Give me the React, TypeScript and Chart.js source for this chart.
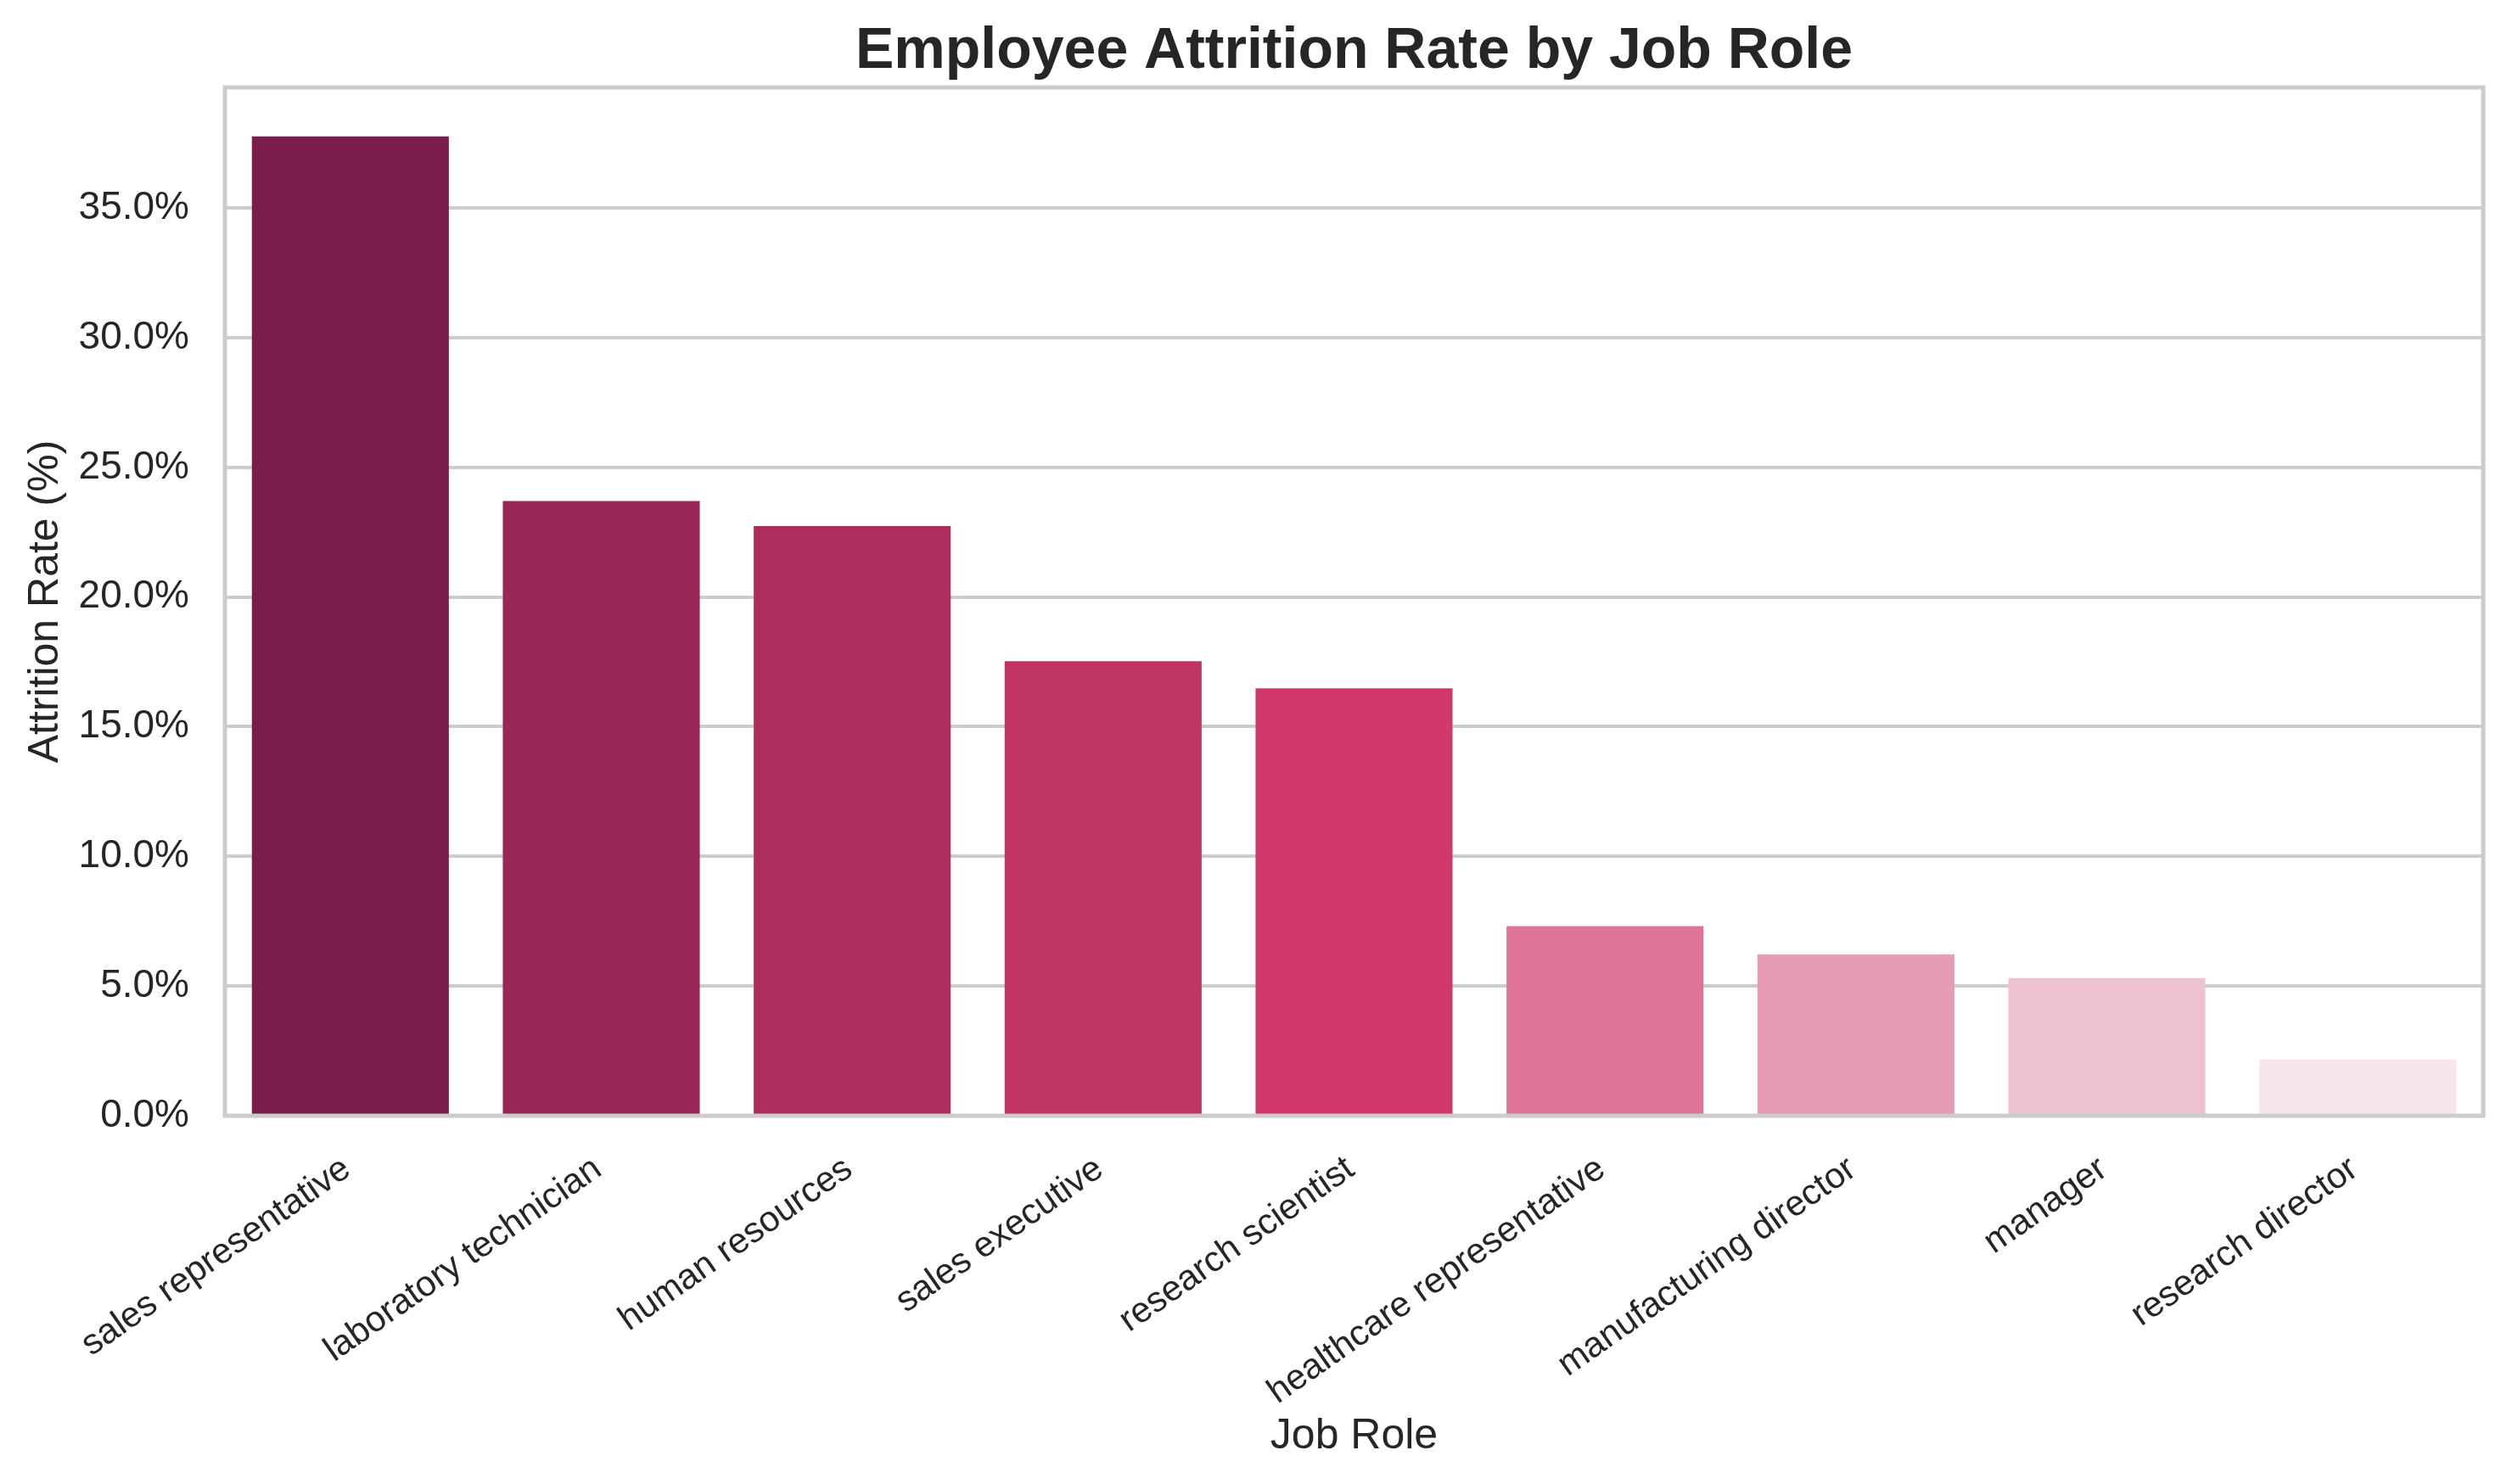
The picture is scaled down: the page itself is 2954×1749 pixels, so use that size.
import React, { useEffect, useRef } from "react";
import { Chart, registerables } from "chart.js";

Chart.register(...registerables);

const chartTitle = "Employee Attrition Rate by Job Role";

const jobRoles = [
  "sales representative",
  "laboratory technician",
  "human resources",
  "sales executive",
  "research scientist",
  "healthcare representative",
  "manufacturing director",
  "manager",
  "research director",
];

const attritionRates = [37.76, 23.7, 22.74, 17.53, 16.48, 7.31, 6.22, 5.31, 2.17];

const barColors = [
  "#7a1d4b",
  "#972757",
  "#ab2e5c",
  "#c03365",
  "#d0386a",
  "#de7598",
  "#e69cb4",
  "#eec2d0",
  "#f7e5ec",
];

const yTickValues = [0, 5, 10, 15, 20, 25, 30, 35];
const yMax = 39.65;

const FONT = '"Liberation Sans", Arial, Helvetica, sans-serif';
const TEXT = "#262626";
const GRID = "#cccccc";

const framePlugin = {
  id: "frameBox",
  afterDatasetsDraw(chart: any) {
    const { ctx, chartArea: a } = chart;
    ctx.save();
    ctx.strokeStyle = GRID;
    ctx.lineWidth = 5;
    ctx.strokeRect(a.left, a.top, a.right - a.left, a.bottom - a.top);
    ctx.restore();
  },
};

const axesTitlePlugin = {
  id: "axesTitle",
  afterDraw(chart: any) {
    const { ctx, chartArea: a } = chart;
    ctx.save();
    ctx.fillStyle = TEXT;
    ctx.font = `bold 68px ${FONT}`;
    ctx.textAlign = "center";
    ctx.textBaseline = "alphabetic";
    ctx.fillText(chartTitle, (a.left + a.right) / 2, 80);
    ctx.restore();
  },
};

export default function App() {
  const ref = useRef<HTMLCanvasElement | null>(null);

  useEffect(() => {
    if (!ref.current) return;
    const chart = new Chart(ref.current, {
      type: "bar",
      data: {
        labels: jobRoles,
        datasets: [
          {
            data: attritionRates,
            backgroundColor: barColors,
            borderWidth: 0,
            barPercentage: 0.785,
            categoryPercentage: 1,
          },
        ],
      },
      options: {
        responsive: false,
        animation: false,
        devicePixelRatio: 1,
        layout: { padding: { left: 0, right: 28, top: 103, bottom: 0 } },
        plugins: {
          legend: { display: false },
          tooltip: { enabled: false },
          title: { display: false },
        },
        scales: {
          x: {
            type: "category",
            offset: true,
            grid: { display: false, drawTicks: false, tickLength: 0 },
            border: { display: false },
            ticks: {
              color: TEXT,
              font: { family: FONT, size: 42 },
              minRotation: 35,
              maxRotation: 35,
              autoSkip: false,
              padding: 38,
              labelOffset: -4,
            },
            title: {
              display: true,
              text: "Job Role",
              color: TEXT,
              font: { family: FONT, size: 50 },
              padding: { top: 0, bottom: 26 },
            },
            afterFit: (s: any) => {
              s.height = 434;
            },
          },
          y: {
            min: 0,
            max: yMax,
            grid: { color: GRID, lineWidth: 4, drawTicks: false, tickLength: 0 },
            border: { display: false },
            ticks: {
              color: TEXT,
              font: { family: FONT, size: 46 },
              padding: 42,
              callback: (v: any) => Number(v).toFixed(1) + "%",
            },
            afterBuildTicks: (s: any) => {
              s.ticks = yTickValues.map((v) => ({ value: v }));
            },
            title: {
              display: true,
              text: "Attrition Rate (%)",
              color: TEXT,
              font: { family: FONT, size: 50 },
              padding: { top: 24, bottom: 0 },
            },
            afterFit: (s: any) => {
              s.width = 265;
            },
          },
        },
      },
      plugins: [framePlugin, axesTitlePlugin],
    });
    return () => chart.destroy();
  }, []);

  return (
    <div style={{ position: "fixed", left: 0, top: 0, width: 2954, height: 1749, background: "#ffffff" }}>
      <canvas ref={ref} width={2954} height={1749} style={{ display: "block" }} />
    </div>
  );
}
